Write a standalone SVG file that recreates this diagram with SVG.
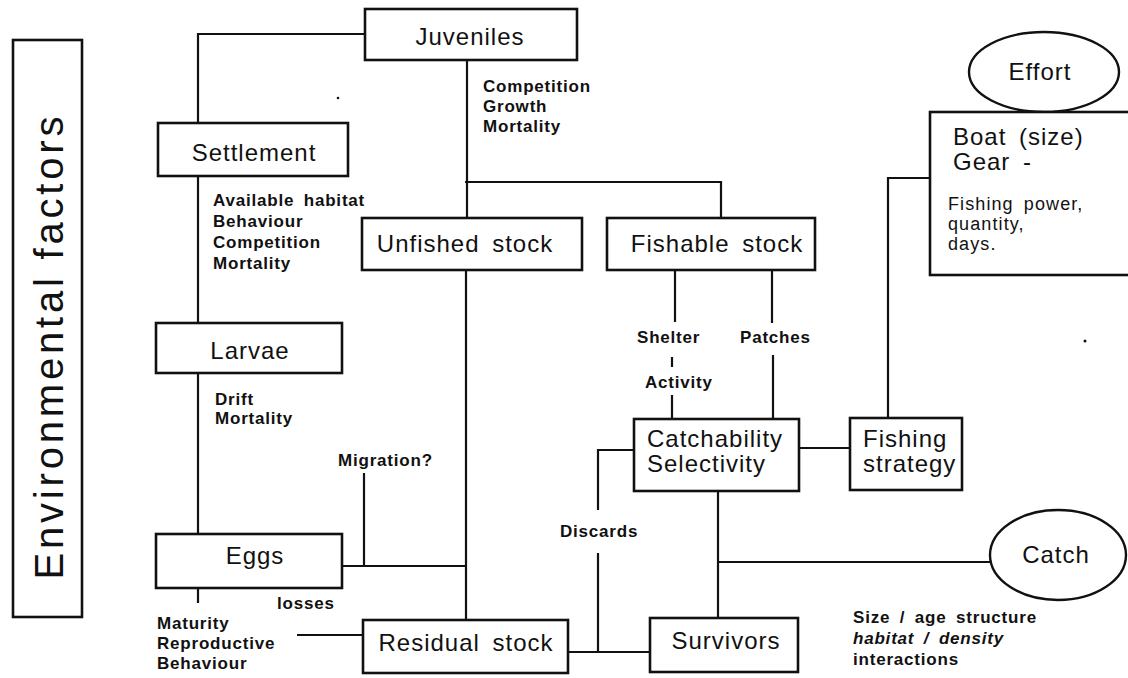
<svg xmlns="http://www.w3.org/2000/svg" width="1128" height="678" viewBox="0 0 1128 678">
<style>
.bx{fill:#fff;stroke:#111;stroke-width:2.6}
.el{fill:#fff;stroke:#111;stroke-width:2.4}
.c{fill:none;stroke:#111;stroke-width:2.2}
text{font-family:"Liberation Sans",Arial,Helvetica,sans-serif;fill:#111}
.n{font-size:24px;letter-spacing:1px;word-spacing:5px}
.nc{text-anchor:middle}
.s{font-size:17px;font-weight:bold;letter-spacing:0.8px;word-spacing:4px}
.r{font-size:18px;letter-spacing:1.1px;word-spacing:4px}
</style>
<rect width="1128" height="678" fill="#fff"/>
<g id="connectors">
<path class="c" d="M365,34 H198 V123"/>
<path class="c" d="M198,176 V323"/>
<path class="c" d="M198,373 V534"/>
<path class="c" d="M198,588 V603"/>
<path class="c" d="M297,635 H363"/>
<path class="c" d="M467,60 V218"/>
<path class="c" d="M465,182 H721 V218"/>
<path class="c" d="M466,270 V620"/>
<path class="c" d="M342,566 H466"/>
<path class="c" d="M364,473 V566"/>
<path class="c" d="M675,270 V322"/>
<path class="c" d="M772,270 V323"/>
<path class="c" d="M672,357 V367"/>
<path class="c" d="M672,395 V419"/>
<path class="c" d="M773,355 V419"/>
<path class="c" d="M799,448 H850"/>
<path class="c" d="M888,418 V178 H930"/>
<path class="c" d="M634,450 H598 V510"/>
<path class="c" d="M598,553 V652"/>
<path class="c" d="M568,652 H650"/>
<path class="c" d="M718,491 V618"/>
<path class="c" d="M718,562 H992"/>
</g>
<g id="env">
<rect class="bx" x="13" y="40" width="69" height="577"/>
<text transform="translate(63,348) rotate(-90)" text-anchor="middle" font-size="40" textLength="463" lengthAdjust="spacing">Environmental factors</text>
</g>
<g id="juveniles">
<rect class="bx" x="365" y="9" width="212" height="51"/>
<text class="n nc" x="470" y="45">Juveniles</text>
</g>
<g id="settlement">
<rect class="bx" x="158" y="123" width="190" height="53"/>
<text class="n nc" x="254" y="161">Settlement</text>
</g>
<g id="larvae">
<rect class="bx" x="156" y="323" width="186" height="50"/>
<text class="n nc" x="250" y="359">Larvae</text>
</g>
<g id="eggs">
<rect class="bx" x="156" y="534" width="186" height="54"/>
<text class="n nc" x="255" y="564">Eggs</text>
</g>
<g id="unfished">
<rect class="bx" x="362" y="218" width="220" height="52"/>
<text class="n nc" x="465" y="252">Unfished stock</text>
</g>
<g id="fishable">
<rect class="bx" x="607" y="218" width="208" height="52"/>
<text class="n nc" x="717" y="252">Fishable stock</text>
</g>
<g id="catchability">
<rect class="bx" x="634" y="419" width="165" height="72"/>
<text class="n" x="647" y="447">Catchability</text>
<text class="n" x="647" y="472">Selectivity</text>
</g>
<g id="fishing-strategy">
<rect class="bx" x="850" y="418" width="112" height="72"/>
<text class="n" x="863" y="447">Fishing</text>
<text class="n" x="863" y="472">strategy</text>
</g>
<g id="residual">
<rect class="bx" x="363" y="620" width="205" height="53"/>
<text class="n nc" x="466" y="651">Residual stock</text>
</g>
<g id="survivors">
<rect class="bx" x="650" y="618" width="148" height="54"/>
<text class="n nc" x="726" y="649">Survivors</text>
</g>
<g id="effort">
<ellipse class="el" cx="1044" cy="72" rx="75" ry="40"/>
<text class="n nc" x="1040" y="80">Effort</text>
</g>
<g id="boat">
<rect class="bx" x="930" y="112" width="210" height="163"/>
<text class="n" x="953" y="145">Boat (size)</text>
<text class="n" x="953" y="170">Gear -</text>
<text class="r" x="948" y="210">Fishing power,</text>
<text class="r" x="948" y="230">quantity,</text>
<text class="r" x="948" y="250">days.</text>
</g>
<g id="catch">
<ellipse class="el" cx="1058" cy="555" rx="68" ry="45"/>
<text class="n nc" x="1056" y="563">Catch</text>
</g>
<g id="labels">
<text class="s" x="483" y="92">Competition</text>
<text class="s" x="483" y="112">Growth</text>
<text class="s" x="483" y="132">Mortality</text>
<text class="s" x="213" y="206">Available habitat</text>
<text class="s" x="213" y="227">Behaviour</text>
<text class="s" x="213" y="248">Competition</text>
<text class="s" x="213" y="269">Mortality</text>
<text class="s" x="215" y="405">Drift</text>
<text class="s" x="215" y="424">Mortality</text>
<text class="s" x="338" y="466">Migration?</text>
<text class="s" x="277" y="609">losses</text>
<text class="s" x="157" y="629">Maturity</text>
<text class="s" x="157" y="649">Reproductive</text>
<text class="s" x="157" y="669">Behaviour</text>
<text class="s" x="637" y="343">Shelter</text>
<text class="s" x="740" y="343">Patches</text>
<text class="s" x="645" y="388">Activity</text>
<text class="s" x="560" y="537">Discards</text>
<text class="s" x="853" y="623">Size / age structure</text>
<text class="s" x="853" y="644" font-style="italic">habitat / density</text>
<text class="s" x="853" y="665">interactions</text>
</g>
<circle cx="338" cy="98" r="1.3" fill="#111"/>
<circle cx="1085" cy="341" r="1.5" fill="#111"/>
</svg>
